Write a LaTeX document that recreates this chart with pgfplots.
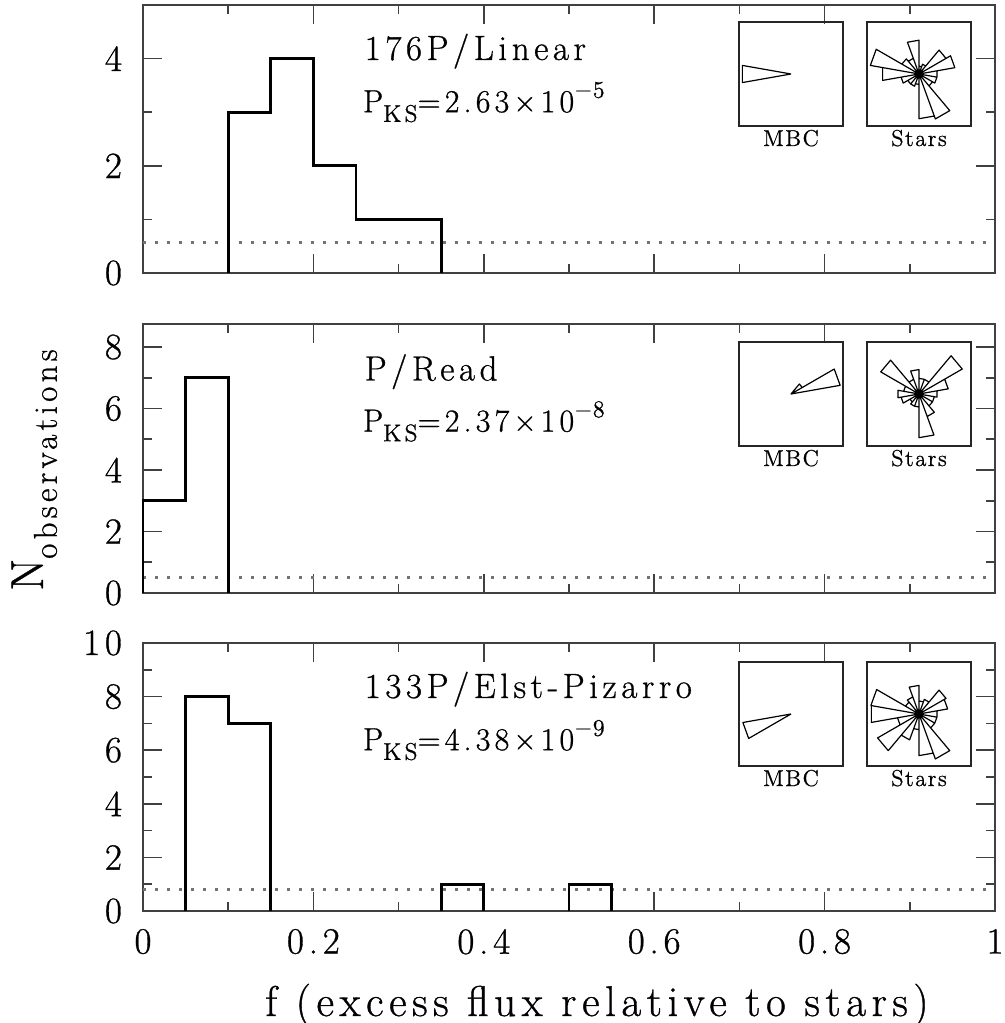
\documentclass[border=0pt]{standalone}
\usepackage{fontspec}
\setmainfont{Latin Modern Roman}[LetterSpace=13, FakeBold=0.8]
\newfontfamily\plainfont{Latin Modern Roman}[LetterSpace=6, FakeBold=0.6]
\usepackage{pgfplots}
\pgfplotsset{compat=1.18}
\pgfplotsset{
  panel/.style={
    scale only axis, width=426pt, xmin=0, xmax=1, ymin=0,
    anchor=south west, clip=false,
    axis line style={black!75, line width=0.8pt},
    every tick/.style={black!75, line width=0.8pt},
    major tick length=9.5pt, minor tick length=4.5pt,
    tick align=inside,
    xtick={0,0.2,0.4,0.6,0.8,1}, minor xtick={0.1,0.3,0.5,0.7,0.9},
    xticklabels={},
    every tick label/.append style={font=\fontsize{18.5}{20}\selectfont},
    yticklabel style={xshift=-7pt},
    xticklabel style={yshift=-5.5pt},
  },
  hist/.style={black, line width=1.4pt, const plot, line join=miter},
  level/.style={black!55, line width=1.5pt, dash pattern=on 1.5pt off 4.5pt},
  inset/.style={
    scale only axis, width=52pt, height=52pt, anchor=south west,
    xmin=-1, xmax=1, ymin=-1, ymax=1, xtick=\empty, ytick=\empty,
    axis line style={black!85, line width=0.8pt}, clip=false,
  },
  rose/.style={data cs=polar, black, line width=0.6pt, line join=round},
  hub/.style={only marks, mark=*, mark size=2pt, black},
}
\newcommand{\lab}[1]{\node[anchor=base, font=\plainfont\fontsize{11.5}{12}\selectfont] at (rel axis cs:0.5,0) [yshift=-10pt] {#1};}
\newcommand{\pks}[2]{P\raisebox{-0.3em}{\fontsize{12}{12}\selectfont KS}=#1×10\raisebox{0.45em}{\fontsize{12}{12}\selectfont $-$#2}}
\begin{document}
\begin{tikzpicture}
\useasboundingbox (-71.5pt,-56pt) rectangle (431pt,455.5pt);

% ---------- panel 1 ----------
\begin{axis}[panel, at={(0pt,319pt)}, height=134pt, ymax=5,
  ytick={0,2,4}, minor ytick={1,3}, yticklabels={0,2,4}]
\addplot[level] coordinates {(0,0.56) (1,0.56)};
\addplot[hist] coordinates {(0.1,0) (0.1,3) (0.15,4) (0.2,2) (0.25,1) (0.3,1) (0.35,0)};
\node[anchor=base west, font=\fontsize{17.5}{18}\selectfont] at (rel axis cs:0.252,0.795) {176P/Linear};
\node[anchor=base west, font=\fontsize{16}{17}\selectfont] at (rel axis cs:0.250,0.60) {\pks{2.63}{5}};
\end{axis}

% ---------- panel 2 ----------
\begin{axis}[panel, at={(0pt,159pt)}, height=134.5pt, ymax=8.75,
  ytick={0,2,4,6,8}, minor ytick={1,3,5,7}, yticklabels={0,2,4,6,8}]
\addplot[level] coordinates {(0,0.52) (1,0.52)};
\addplot[hist] coordinates {(0,0) (0,3) (0.05,7) (0.1,0)};
\node[anchor=base west, font=\fontsize{17.5}{18}\selectfont] at (rel axis cs:0.252,0.79) {P/Read};
\node[anchor=base west, font=\fontsize{16}{17}\selectfont] at (rel axis cs:0.250,0.60) {\pks{2.37}{8}};
\end{axis}

% ---------- panel 3 ----------
\begin{axis}[panel, at={(0pt,0pt)}, height=134pt, ymax=10,
  ytick={0,2,4,6,8,10}, minor ytick={1,3,5,7,9}, yticklabels={0,2,4,6,8,10},
  xticklabels={0,0.2,0.4,0.6,0.8,1}]
\addplot[level] coordinates {(0,0.8) (1,0.8)};
\addplot[hist] coordinates {(0.05,0) (0.05,8) (0.1,7) (0.15,0)};
\addplot[hist] coordinates {(0.35,0) (0.35,1) (0.4,0)};
\addplot[hist] coordinates {(0.5,0) (0.5,1) (0.55,0)};
\node[anchor=base west, font=\fontsize{17.5}{18}\selectfont] at (rel axis cs:0.252,0.795) {133P/Elst-Pizarro};
\node[anchor=base west, font=\fontsize{16}{17}\selectfont] at (rel axis cs:0.250,0.60) {\pks{4.38}{9}};
\end{axis}

% ---------- insets panel 1 ----------
\begin{axis}[inset, at={(298pt,392.5pt)}]
\addplot[rose] coordinates {(0,0) (170,0.95) (190,0.95) (0,0)};
\lab{MBC}
\end{axis}
\begin{axis}[inset, at={(362pt,392.5pt)}]
\addplot[rose] coordinates {(0,0)
 (-10,0.35) (10,0.35) (0,0) (10,0.70) (30,0.70) (0,0) (30,0.60) (50,0.60) (0,0)
 (50,0.20) (70,0.20) (0,0) (70,0.15) (90,0.15) (0,0) (90,0.65) (110,0.65) (0,0)
 (110,0.32) (130,0.32) (0,0) (130,0.38) (150,0.38) (0,0) (150,0.95) (170,0.95) (0,0)
 (170,0.71) (190,0.71) (0,0) (190,0.35) (210,0.35) (0,0) (210,0.25) (230,0.25) (0,0)
 (230,0.25) (250,0.25) (0,0) (250,0.20) (270,0.20) (0,0) (270,0.86) (290,0.86) (0,0)
 (290,0.92) (310,0.92) (0,0) (310,0.30) (330,0.30) (0,0) (330,0.35) (350,0.35) (0,0)};
\addplot[hub] coordinates {(0,0)};
\lab{Stars}
\end{axis}

% ---------- insets panel 2 ----------
\begin{axis}[inset, at={(298pt,232.5pt)}]
\addplot[rose] coordinates {(0,0) (10,0.96) (30,0.96) (0,0) (30,0.25) (50,0.25) (0,0)};
\lab{MBC}
\end{axis}
\begin{axis}[inset, at={(362pt,232.5pt)}]
\addplot[rose] coordinates {(0,0)
 (-10,0.35) (10,0.35) (0,0) (10,0.57) (30,0.57) (0,0) (30,0.96) (50,0.96) (0,0)
 (50,0.30) (70,0.30) (0,0) (70,0.30) (90,0.30) (0,0) (90,0.47) (110,0.47) (0,0)
 (110,0.30) (130,0.30) (0,0) (130,0.85) (150,0.85) (0,0) (150,0.30) (170,0.30) (0,0)
 (170,0.41) (190,0.41) (0,0) (190,0.35) (210,0.35) (0,0) (210,0.20) (230,0.20) (0,0)
 (230,0.25) (250,0.25) (0,0) (250,0.25) (270,0.25) (0,0) (270,0.84) (290,0.84) (0,0)
 (290,0.46) (310,0.46) (0,0) (310,0.30) (330,0.30) (0,0) (330,0.30) (350,0.30) (0,0)};
\addplot[hub] coordinates {(0,0)};
\lab{Stars}
\end{axis}

% ---------- insets panel 3 ----------
\begin{axis}[inset, at={(298pt,72.5pt)}]
\addplot[rose] coordinates {(0,0) (190,0.94) (210,0.94) (0,0)};
\lab{MBC}
\end{axis}
\begin{axis}[inset, at={(362pt,72.5pt)}]
\addplot[rose] coordinates {(0,0)
 (-10,0.35) (10,0.35) (0,0) (10,0.56) (30,0.56) (0,0) (30,0.60) (50,0.60) (0,0)
 (50,0.30) (70,0.30) (0,0) (70,0.25) (90,0.25) (0,0) (90,0.55) (110,0.55) (0,0)
 (110,0.35) (130,0.35) (0,0) (130,0.30) (150,0.30) (0,0) (150,0.94) (170,0.94) (0,0)
 (170,0.93) (190,0.93) (0,0) (190,0.42) (210,0.42) (0,0) (210,0.92) (230,0.92) (0,0)
 (230,0.53) (250,0.53) (0,0) (250,0.30) (270,0.30) (0,0) (270,0.80) (290,0.80) (0,0)
 (290,0.92) (310,0.92) (0,0) (310,0.35) (330,0.35) (0,0) (330,0.35) (350,0.35) (0,0)};
\addplot[hub] coordinates {(0,0)};
\lab{Stars}
\end{axis}

% ---------- axis titles ----------
\node[rotate=90, anchor=base] at (-50pt,220.5pt)
  {\fontsize{23}{24}\selectfont N\raisebox{-0.3em}{\fontsize{16.5}{17}\selectfont observations}};
\node[anchor=base, font=\fontsize{21.5}{23}\selectfont] at (227pt,-52.5pt)
  {f (excess flux relative to stars)};
\end{tikzpicture}
\end{document}
